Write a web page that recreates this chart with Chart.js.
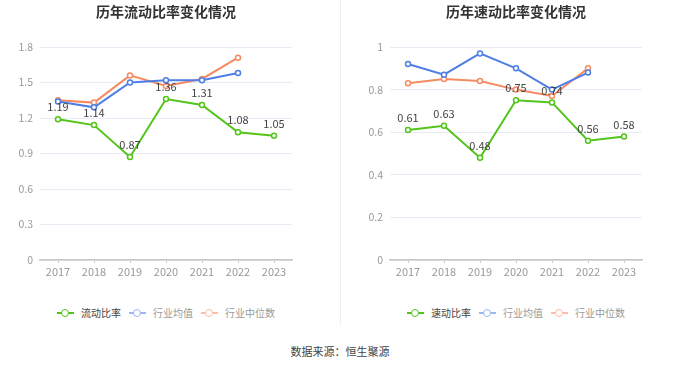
<!DOCTYPE html>
<html>
<head>
<meta charset="utf-8">
<script src="https://cdn.jsdelivr.net/npm/chart.js@4.4.0/dist/chart.umd.min.js"></script>
<style>
  html, body { margin: 0; padding: 0; background: #fff; }
  body { width: 680px; height: 367px; position: relative; overflow: hidden;
         font-family: "Noto Sans CJK SC", "Noto Sans", sans-serif; }
  .wrap { position: absolute; top: 0; width: 340px; height: 290px; }
  .title { position: absolute; top: 0; transform: translateX(-50%); white-space: nowrap;
           font-size: 14px; font-weight: bold; color: #333; line-height: 22px; }
  .legend { position: absolute; top: 306px; transform: translateX(-50%); white-space: nowrap;
            display: flex; align-items: center; height: 14px; }
  .item { display: flex; align-items: center; margin-right: 8px; font-size: 10px; line-height: 14px; }
  .item:last-child { margin-right: 0; }
  .mk { position: relative; width: 17px; height: 10px; margin-right: 7px; display: inline-block; }
  .mk .ln { position: absolute; left: 0; top: 4px; width: 17px; height: 2px; }
  .mk .ci { position: absolute; left: 4px; top: 0.5px; width: 6px; height: 6px; border-radius: 50%;
            background: #fff; border: 1.5px solid; }
  .divider { position: absolute; left: 340px; top: 0; width: 1px; height: 325px; background: #eeeeee; }
  .source { position: absolute; top: 343px; left: 340px; transform: translateX(-50%);
            font-size: 11px; color: #444; line-height: 16px; white-space: nowrap; }
</style>
</head>
<body>
<div class="wrap" style="left:0"><canvas id="c1" width="340" height="290"></canvas></div>
<div class="wrap" style="left:340px"><canvas id="c2" width="340" height="290"></canvas></div>
<div class="title" style="left:166px">历年流动比率变化情况</div>
<div class="title" style="left:516px">历年速动比率变化情况</div>
<div class="legend" id="lg1" style="left:166px"></div>
<div class="legend" id="lg2" style="left:516px"></div>
<div class="divider"></div>
<div class="source">数据来源：恒生聚源</div>
<script>
const years = ['2017', '2018', '2019', '2020', '2021', '2022', '2023'];

const currentRatio  = [1.19, 1.14, 0.87, 1.36, 1.31, 1.08, 1.05];
const currentAvg    = [1.34, 1.29, 1.50, 1.52, 1.52, 1.58, null];
const currentMedian = [1.35, 1.33, 1.56, 1.47, 1.53, 1.71, null];

const quickRatio  = [0.61, 0.63, 0.48, 0.75, 0.74, 0.56, 0.58];
const quickAvg    = [0.92, 0.87, 0.97, 0.90, 0.80, 0.88, null];
const quickMedian = [0.83, 0.85, 0.84, 0.80, 0.77, 0.90, null];

const leftAxis  = { min: 0, max: 1.8, step: 0.3 };
const rightAxis = { min: 0, max: 1.0, step: 0.2 };

const GREEN = '#52c41a', BLUE = '#4e7ee6', ORANGE = '#f68b62';
const FONT = '"Noto Sans CJK SC", "Noto Sans", sans-serif';

const valueLabels = {
  id: 'valueLabels',
  afterDatasetsDraw(chart) {
    const ctx = chart.ctx;
    const meta = chart.getDatasetMeta(0);
    const data = chart.data.datasets[0].data;
    ctx.save();
    ctx.font = '11px ' + FONT;
    ctx.fillStyle = '#444';
    ctx.textAlign = 'center';
    ctx.textBaseline = 'middle';
    meta.data.forEach((pt, i) => {
      if (data[i] == null) return;
      ctx.fillText(data[i].toFixed(2), pt.x, pt.y - 12);
    });
    ctx.restore();
  }
};

function ds(label, data, color, order) {
  return {
    label, data, borderColor: color, backgroundColor: '#fff',
    borderWidth: 2, pointRadius: 2.5, pointBorderWidth: 1.5,
    pointBackgroundColor: '#fff', pointBorderColor: color,
    tension: 0, spanGaps: false, order
  };
}

function makeChart(id, datasets, axis, yWidth, padRight) {
  return new Chart(document.getElementById(id), {
    type: 'line',
    data: { labels: years, datasets },
    options: {
      responsive: false, animation: false, devicePixelRatio: 1,
      layout: { padding: { top: 47, right: padRight, bottom: 10, left: 0 } },
      plugins: { legend: { display: false }, title: { display: false }, tooltip: { enabled: false } },
      scales: {
        x: {
          offset: true,
          grid: { display: true, drawOnChartArea: false, drawTicks: true, tickLength: 3,
                  offset: false, color: '#c8c8c8', lineWidth: 1 },
          border: { color: '#c8c8c8', width: 1.5 },
          ticks: { color: '#999', font: { size: 11, family: FONT }, padding: 2, maxRotation: 0 },
          afterFit(s) { s.height = 20; }
        },
        y: {
          min: axis.min, max: axis.max,
          grid: { color: '#e6ebf5', drawTicks: false },
          border: { display: false },
          ticks: {
            stepSize: axis.step, color: '#999', font: { size: 10.5, family: FONT }, padding: 7,
            callback: v => String(Number(v.toFixed(2)))
          },
          afterFit(s) { s.width = yWidth; }
        }
      }
    },
    plugins: [valueLabels]
  });
}

function buildLegend(chart, el) {
  chart.data.datasets.forEach((d, i) => {
    const item = document.createElement('div');
    item.className = 'item';
    const mk = document.createElement('span');
    mk.className = 'mk';
    if (i > 0) mk.style.opacity = '0.55';
    const ln = document.createElement('span'); ln.className = 'ln'; ln.style.background = d.borderColor;
    const ci = document.createElement('span'); ci.className = 'ci'; ci.style.borderColor = d.borderColor;
    mk.appendChild(ln); mk.appendChild(ci);
    const tx = document.createElement('span');
    tx.textContent = d.label;
    tx.style.color = i === 0 ? '#444' : '#999';
    item.appendChild(mk); item.appendChild(tx);
    el.appendChild(item);
  });
}

const c1 = makeChart('c1', [
  ds('流动比率', currentRatio, GREEN, 0),
  ds('行业均值', currentAvg, BLUE, 1),
  ds('行业中位数', currentMedian, ORANGE, 2)
], leftAxis, 40, 48);

const c2 = makeChart('c2', [
  ds('速动比率', quickRatio, GREEN, 0),
  ds('行业均值', quickAvg, BLUE, 1),
  ds('行业中位数', quickMedian, ORANGE, 2)
], rightAxis, 50, 38);

buildLegend(c1, document.getElementById('lg1'));
buildLegend(c2, document.getElementById('lg2'));
</script>
</body>
</html>
